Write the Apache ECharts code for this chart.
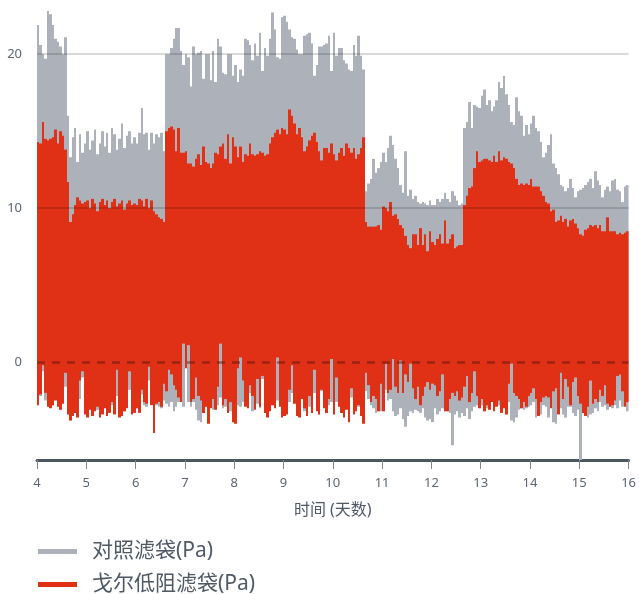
<!DOCTYPE html>
<html>
<head>
<meta charset="utf-8">
<script src="https://cdn.jsdelivr.net/npm/echarts@6/dist/echarts.min.js"></script>
<style>
  html, body { margin: 0; padding: 0; background: #ffffff; }
  #chart { width: 639px; height: 594px; }
</style>
</head>
<body>
<div id="chart"></div>
<script>
// Sampling: one reading every 0.05 day, from day 4 to day 16
const START_DAY = 4;
const STEP_DAY = 0.05;
const DAY_TICKS = [4, 5, 6, 7, 8, 9, 10, 11, 12, 13, 14, 15, 16];
const Y_TICKS = [0, 10, 20];
const SERIES_NAMES = ['对照滤袋(Pa)', '戈尔低阻滤袋(Pa)'];

// Control bag: peak and trough pressure of each sample (one row per day)
const controlHigh = [
  21.9, 20.6, 20.0, 19.7, 22.8, 22.6, 21.9, 21.0, 20.8, 20.5, 20.0, 21.1, 16.0, 13.3, 14.6, 15.2, 13.0, 14.8, 13.6, 14.2,
  15.0, 13.8, 14.4, 15.1, 13.5, 14.2, 15.0, 14.0, 14.9, 13.6, 15.2, 14.8, 13.8, 14.5, 15.5, 13.9, 14.7, 15.0, 14.2, 14.6,
  14.2, 14.9, 16.5, 14.8, 14.9, 13.8, 14.9, 14.2, 14.8, 14.6, 14.9, 13.7, 20.0, 20.0, 20.4, 21.0, 21.7, 21.7, 20.2, 19.3,
  20.0, 19.8, 17.9, 20.5, 20.0, 20.1, 20.2, 18.4, 20.0, 20.0, 18.3, 20.2, 18.2, 21.0, 20.5, 18.8, 18.7, 20.0, 20.0, 18.6,
  19.3, 18.2, 19.0, 18.6, 21.0, 20.9, 20.6, 19.6, 20.7, 19.9, 21.4, 18.9, 20.4, 19.9, 21.0, 22.7, 21.6, 19.8, 19.7, 22.4,
  22.5, 22.1, 21.6, 21.1, 21.0, 20.3, 20.0, 20.0, 21.2, 21.3, 21.4, 20.7, 18.6, 19.3, 20.5, 20.5, 20.6, 20.7, 21.2, 18.9,
  21.4, 19.9, 20.4, 20.4, 19.6, 19.4, 19.0, 18.9, 20.6, 19.9, 21.2, 19.9, 19.0, 11.1, 11.6, 11.9, 13.2, 12.3, 12.6, 13.0,
  13.6, 13.0, 13.9, 14.7, 14.1, 13.2, 12.6, 11.5, 11.0, 13.7, 10.8, 11.2, 10.6, 10.8, 10.4, 10.3, 10.4, 10.3, 10.2, 10.5,
  10.2, 10.2, 10.6, 10.4, 10.6, 11.0, 10.6, 10.4, 11.1, 10.8, 10.5, 10.2, 10.3, 15.2, 15.6, 16.9, 15.2, 16.7, 16.6, 16.5,
  17.3, 17.7, 16.7, 17.0, 16.3, 16.6, 17.0, 18.2, 17.8, 18.6, 17.4, 16.7, 15.6, 15.4, 17.2, 16.3, 16.0, 14.7, 15.4, 14.8,
  15.5, 16.0, 15.2, 15.0, 14.3, 13.3, 13.6, 14.1, 14.8, 12.9, 12.6, 12.2, 11.5, 11.4, 11.1, 11.3, 11.9, 11.3, 10.7, 11.1,
  11.2, 11.3, 11.5, 11.7, 11.9, 11.3, 12.4, 11.8, 11.5, 10.7, 11.2, 11.4, 11.1, 11.8, 11.9, 11.2, 11.1, 10.4, 11.4, 11.5
];
const controlLow = [
  -2.6, -2.2, -0.6, -2.5, -2.7, -2.8, -2.6, -2.4, -2.7, -2.9, -2.6, -1.6, -3.2, -3.5, -3.3, -3.1, -3.4, -2.4, -1.0, -3.2,
  -3.4, -3.0, -3.3, -3.0, -3.1, -3.4, -3.2, -2.9, -3.3, -3.1, -2.8, -3.2, -2.2, -3.4, -3.3, -3.0, -2.9, -1.8, -3.2, -3.1,
  -2.8, -3.0, -2.1, -2.8, -2.9, -1.2, -2.6, -3.0, -2.8, -2.9, -3.0, -2.5, -2.7, -2.9, -2.6, -3.2, -2.9, -2.6, -2.5, -2.9,
  -0.3, -2.6, -2.9, -2.6, -3.1, -3.8, -3.9, -3.0, -2.7, -3.2, -2.8, -3.1, -2.9, -2.8, -2.3, -3.0, -2.9, -2.9, -3.2, -3.0,
  -3.1, -2.8, -2.9, -2.6, -2.8, -2.7, -2.0, -3.2, -2.9, -2.7, -3.0, -1.1, -3.0, -3.2, -3.0, -2.6, -2.9, -2.5, -2.7, -3.0,
  -3.1, -3.0, -2.6, -2.0, -2.5, -2.9, -3.2, -2.3, -3.2, -3.0, -2.9, -3.1, -2.0, -3.0, -3.1, -1.9, -2.8, -3.0, -2.8, -2.6,
  -3.0, -2.6, -2.7, -3.0, -3.1, -2.9, -3.0, -2.3, -3.1, -3.0, -2.9, -3.2, -3.3, -1.9, -2.4, -2.8, -3.0, -3.3, -3.0, -3.2,
  -3.0, -1.8, -2.5, -2.4, -3.2, -3.5, -3.4, -3.0, -3.7, -4.2, -3.5, -3.2, -3.3, -3.1, -3.2, -3.3, -3.0, -3.6, -3.8, -3.7,
  -3.9, -3.0, -3.4, -3.2, -3.0, -3.0, -3.1, -3.3, -5.4, -3.4, -3.2, -3.6, -3.3, -3.5, -3.0, -3.7, -3.2, -2.9, -2.8, -2.9,
  -2.8, -2.9, -3.0, -2.4, -2.6, -2.9, -2.8, -2.8, -2.8, -2.9, -3.0, -2.6, -3.8, -3.9, -3.6, -3.1, -3.0, -3.1, -3.0, -2.9,
  -2.8, -2.6, -3.6, -3.0, -3.4, -2.8, -2.9, -3.6, -2.9, -3.9, -4.0, -3.1, -3.0, -3.4, -3.6, -2.9, -2.9, -3.3, -3.5, -3.1,
  -6.4, -3.0, -3.1, -3.6, -3.4, -3.3, -3.0, -3.2, -2.6, -2.9, -2.8, -3.1, -2.9, -3.0, -2.8, -3.0, -2.5, -2.9, -2.8, -3.2
];

// GORE low-resistance bag: peak and trough pressure of each sample
const goreHigh = [
  14.3, 14.2, 15.6, 14.5, 14.4, 14.5, 14.6, 15.1, 14.2, 15.0, 14.7, 13.8, 11.7, 9.1, 9.6, 10.2, 10.7, 10.5, 10.3, 10.4,
  10.5, 10.0, 10.6, 10.3, 9.8, 10.4, 10.6, 10.2, 10.5, 10.0, 10.4, 10.6, 10.1, 10.3, 10.5, 9.9, 10.3, 10.5, 10.2, 10.3,
  10.2, 10.6, 10.5, 10.1, 10.6, 10.0, 10.5, 9.8, 9.6, 9.4, 9.3, 9.1, 15.0, 15.2, 15.3, 15.1, 13.7, 15.2, 13.6, 13.6,
  13.7, 12.9, 12.9, 12.7, 13.2, 13.5, 12.8, 14.0, 13.0, 12.9, 12.6, 12.9, 13.6, 13.5, 14.0, 14.2, 13.2, 14.8, 12.9, 14.6,
  14.0, 13.3, 14.0, 13.0, 13.5, 13.4, 14.2, 13.5, 13.4, 13.5, 13.7, 13.6, 13.4, 13.5, 14.2, 14.6, 14.9, 15.1, 14.8, 15.2,
  15.1, 14.8, 16.4, 16.0, 15.5, 14.8, 15.2, 14.6, 13.7, 14.0, 14.4, 14.7, 14.9, 14.3, 13.7, 13.1, 13.9, 13.9, 13.6, 14.2,
  13.5, 13.1, 13.6, 13.9, 13.4, 14.2, 13.9, 13.6, 13.9, 13.2, 13.5, 13.9, 14.6, 9.1, 8.8, 8.8, 8.8, 8.8, 8.9, 8.6,
  10.1, 10.0, 9.8, 10.4, 9.5, 9.6, 9.3, 8.9, 8.7, 8.2, 7.6, 7.4, 8.3, 8.3, 7.6, 8.7, 7.6, 8.3, 7.2, 8.5,
  7.8, 7.6, 8.0, 8.3, 7.7, 9.2, 7.7, 8.0, 8.3, 7.4, 7.5, 7.6, 7.6, 10.2, 10.8, 11.3, 11.4, 12.6, 13.7, 13.0,
  13.1, 13.2, 13.2, 13.1, 13.0, 13.4, 13.0, 13.7, 13.1, 13.3, 13.2, 13.0, 12.9, 12.6, 11.9, 11.5, 11.6, 11.5, 11.6, 11.5,
  11.9, 11.4, 11.4, 11.4, 11.1, 10.8, 10.4, 10.3, 9.8, 9.9, 9.1, 9.2, 9.5, 9.1, 9.3, 8.8, 9.2, 9.3, 9.0, 8.7,
  8.3, 8.2, 8.6, 8.7, 8.9, 8.8, 8.9, 8.7, 8.9, 8.5, 8.5, 9.4, 8.5, 8.5, 8.5, 8.3, 8.4, 8.3, 8.4, 8.5
];
const goreLow = [
  -2.8, -2.1, -0.2, -2.0, -2.9, -3.0, -2.8, -2.5, -2.9, -3.1, -2.7, -0.7, -3.4, -3.8, -3.5, -3.3, -3.6, -1.2, -0.6, -3.4,
  -3.6, -3.1, -3.5, -3.2, -2.9, -3.6, -3.4, -3.0, -3.5, -3.3, -2.6, -3.4, -0.5, -3.6, -3.5, -3.2, -3.0, -0.6, -3.4, -3.3,
  -3.0, -3.3, -1.8, -2.6, -2.7, -0.3, -2.8, -4.6, -2.7, -2.6, -2.9, -1.4, -1.9, -0.5, -0.8, -1.5, -1.8, -2.3, -2.6, 1.2,
  -0.4, 1.1, -2.6, -2.4, -1.0, -2.2, -2.5, -3.3, -2.9, -4.0, -3.0, -2.4, -3.1, -1.6, 1.2, -2.8, -2.4, -3.3, -2.6, -3.9,
  -4.0, -0.4, 0.3, -1.2, -2.9, -3.0, -1.5, -2.2, -3.1, -1.1, -2.9, -0.9, -3.3, -3.6, -3.2, -2.8, -3.0, 0.3, -2.9, -3.6,
  -3.5, -3.4, -1.8, -0.2, -2.7, -3.5, -3.6, -2.4, -3.0, -3.5, -2.2, -3.3, -0.5, -3.2, -3.4, -1.8, -3.0, -3.3, -2.4, 0.2,
  -3.4, -1.0, -2.9, -3.3, -3.6, -3.1, -3.9, -1.7, -3.4, -3.2, -2.8, -3.5, -4.0, -0.7, -1.5, -2.6, -2.2, -2.4, -3.2, -1.4,
  -3.2, -0.1, -2.0, -1.8, 0.2, -1.6, -2.0, 0.1, -2.0, -0.8, -1.3, -0.1, -1.7, -2.4, -1.6, -2.8, -2.2, -1.6, -1.3, -1.8,
  -1.4, -1.5, -2.2, -1.9, -0.8, -3.2, -3.2, -2.4, -2.0, -2.2, -1.9, -2.5, -2.3, -1.6, -0.9, -2.6, -2.0, -0.6, -2.2, -3.0,
  -2.4, -3.2, -2.8, -3.1, -2.6, -3.2, -2.9, -2.5, -3.3, -3.0, -3.4, -1.4, -0.1, -2.0, -2.2, -2.4, -3.0, -2.6, -2.9, -2.2,
  -2.0, -1.7, -2.4, -3.5, -2.6, -2.3, -2.2, -2.3, -3.0, -1.9, -1.7, -3.4, -0.7, -2.4, -1.1, -1.6, -2.8, -1.3, -1.0, -2.2,
  -2.7, -3.3, -3.5, -2.9, -1.2, -2.7, -2.4, -2.6, -1.8, -2.2, -1.5, -2.7, -2.9, -2.8, -2.5, -0.9, -0.8, -1.9, -2.9, -2.6
];

const COLOR_CONTROL = '#adb2ba';
const COLOR_GORE = '#e03116';
const TEXT_COLOR = '#4f5965';
const FONT = '"Noto Sans", "Noto Sans CJK SC", sans-serif';

// Each sample becomes [start day, trough, peak]
function toRanges(lows, highs) {
  return highs.map((h, i) => [START_DAY + i * STEP_DAY, lows[i], h]);
}

// Floating column from trough to peak, one sampling step wide,
// snapped to whole pixels so neighbouring columns meet without seams
function renderRange(params, api) {
  const t = api.value(0);
  const top = api.coord([t, api.value(2)]);
  const bottom = api.coord([t + STEP_DAY, api.value(1)]);
  const x0 = Math.round(top[0]);
  const x1 = Math.round(bottom[0]);
  const cs = params.coordSys;
  const rect = echarts.graphic.clipRectByRect(
    { x: x0, y: top[1], width: Math.max(1, x1 - x0), height: bottom[1] - top[1] },
    { x: cs.x, y: cs.y, width: cs.width, height: cs.height }
  );
  return rect && { type: 'rect', shape: rect, style: api.style() };
}

const legendBase = {
  orient: 'vertical',
  left: 38,
  padding: 0,
  itemWidth: 39,
  itemHeight: 5,
  selectedMode: false,
  textStyle: { color: TEXT_COLOR, fontSize: 21, fontFamily: FONT, padding: [0, 0, 0, 10] }
};

const chart = echarts.init(document.getElementById('chart'), null, { renderer: 'canvas' });

chart.setOption({
  animation: false,
  backgroundColor: '#ffffff',
  grid: { left: 37, right: 7, top: 8, bottom: 134, containLabel: false },
  xAxis: {
    type: 'value',
    min: DAY_TICKS[0],
    max: DAY_TICKS[DAY_TICKS.length - 1],
    interval: 1,
    name: '时间 (天数)',
    nameLocation: 'middle',
    nameGap: 42,
    nameTextStyle: { color: TEXT_COLOR, fontSize: 16, fontFamily: FONT },
    axisLine: { show: true, onZero: false, lineStyle: { color: '#4b5661', width: 3 } },
    axisTick: { show: true, length: 9, lineStyle: { color: '#7d8791', width: 1 } },
    axisLabel: { color: '#5b6571', fontSize: 13, fontFamily: FONT, margin: 17 },
    splitLine: { show: false }
  },
  yAxis: {
    type: 'value',
    min: -6.36,
    max: 23,
    axisLine: { show: false },
    axisTick: { show: false },
    splitLine: { show: false },
    axisLabel: {
      customValues: Y_TICKS,
      color: '#5b6571',
      fontSize: 13,
      fontFamily: FONT,
      margin: 15
    }
  },
  legend: [
    Object.assign({}, legendBase, {
      top: 541,
      data: [{ name: SERIES_NAMES[0], icon: 'rect', itemStyle: { color: COLOR_CONTROL } }]
    }),
    Object.assign({}, legendBase, {
      top: 574,
      data: [{ name: SERIES_NAMES[1], icon: 'rect', itemStyle: { color: COLOR_GORE } }]
    })
  ],
  series: [
    {
      name: SERIES_NAMES[0],
      type: 'custom',
      renderItem: renderRange,
      encode: { x: 0, y: [1, 2] },
      itemStyle: { color: COLOR_CONTROL },
      data: toRanges(controlLow, controlHigh),
      z: 2
    },
    {
      name: SERIES_NAMES[1],
      type: 'custom',
      renderItem: renderRange,
      encode: { x: 0, y: [1, 2] },
      itemStyle: { color: COLOR_GORE },
      data: toRanges(goreLow, goreHigh),
      z: 3
    },
    {
      // reference lines drawn over the columns
      name: 'grid-lines',
      type: 'line',
      data: [],
      z: 5,
      silent: true,
      markLine: {
        silent: true,
        symbol: 'none',
        label: { show: false },
        animation: false,
        data: [
          { yAxis: Y_TICKS[1], lineStyle: { color: 'rgba(0,0,0,0.2)', width: 1.5, type: 'solid' } },
          { yAxis: Y_TICKS[2], lineStyle: { color: 'rgba(0,0,0,0.2)', width: 1.5, type: 'solid' } },
          { yAxis: Y_TICKS[0], lineStyle: { color: 'rgba(90,20,10,0.5)', width: 2.5, type: [8, 7] } }
        ]
      }
    }
  ]
});
</script>
</body>
</html>
